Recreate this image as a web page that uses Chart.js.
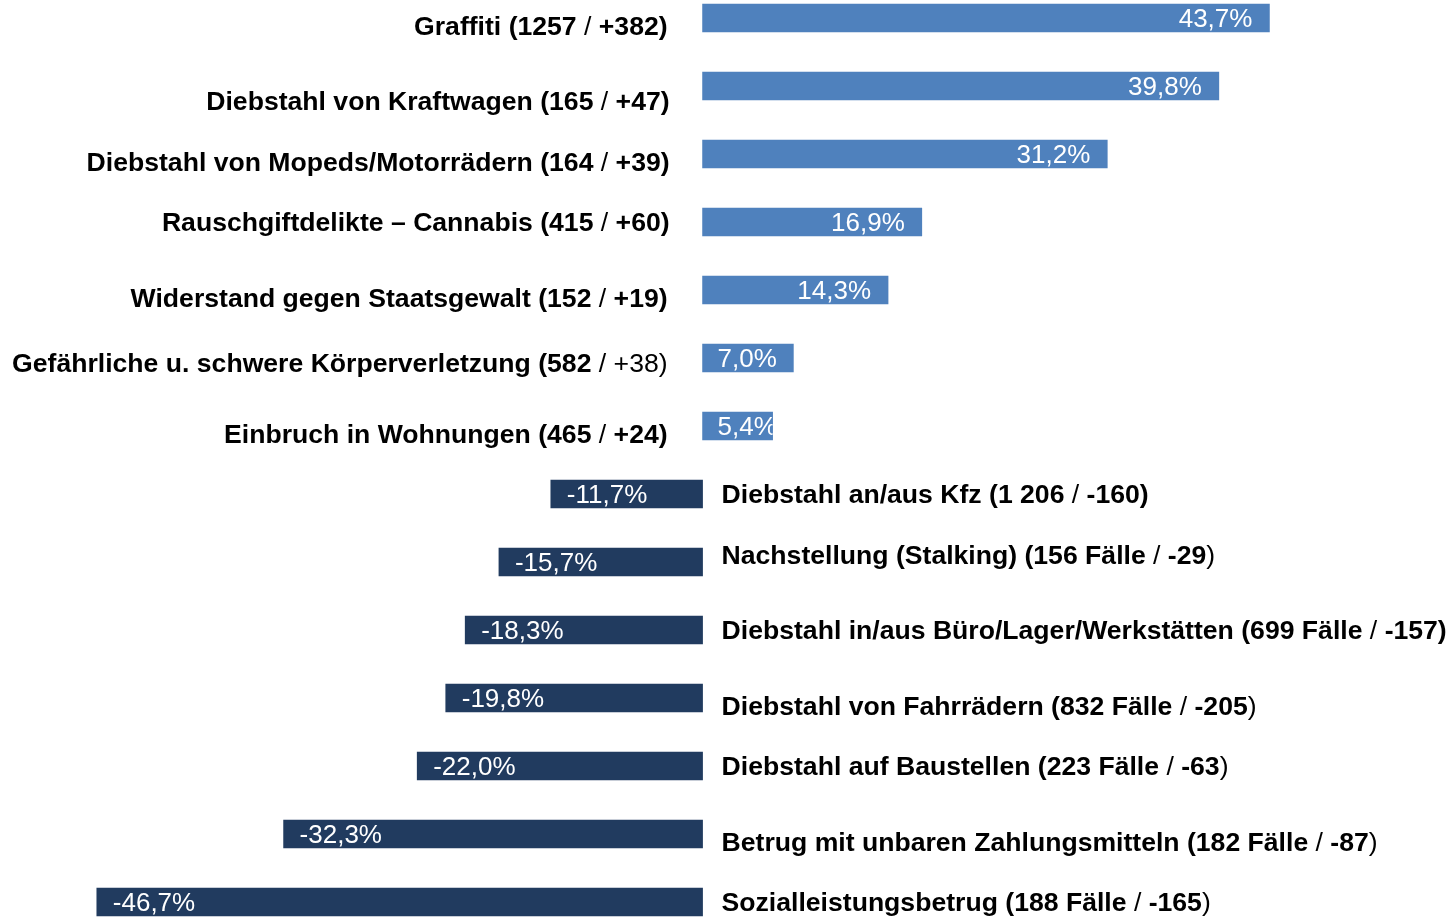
<!DOCTYPE html>
<html>
<head>
<meta charset="utf-8">
<script src="https://cdn.jsdelivr.net/npm/chart.js@4/dist/chart.umd.min.js"></script>
<style>
  html, body { margin: 0; padding: 0; background: #fff; }
  canvas { display: block; }
</style>
</head>
<body>
<canvas id="c" width="1450" height="918"></canvas>
<script>
// category labels, parts in {} are drawn in regular weight
var categories = [
  "Graffiti (1257 {/} +382)",
  "Diebstahl von Kraftwagen (165 {/} +47)",
  "Diebstahl von Mopeds/Motorrädern (164 {/} +39)",
  "Rauschgiftdelikte – Cannabis (415 {/} +60)",
  "Widerstand gegen Staatsgewalt (152 {/} +19)",
  "Gefährliche u. schwere Körperverletzung (582 {/ +38)}",
  "Einbruch in Wohnungen (465 {/} +24)",
  "Diebstahl an/aus Kfz (1 206 {/} -160)",
  "Nachstellung (Stalking) (156 Fälle {/} -29{)}",
  "Diebstahl in/aus Büro/Lager/Werkstätten (699 Fälle {/} -157)",
  "Diebstahl von Fahrrädern (832 Fälle {/} -205{)}",
  "Diebstahl auf Baustellen (223 Fälle {/} -63{)}",
  "Betrug mit unbaren Zahlungsmitteln (182 Fälle {/} -87{)}",
  "Sozialleistungsbetrug (188 Fälle {/} -165{)}"
];
var changes = [43.7, 39.8, 31.2, 16.9, 14.3, 7.0, 5.4, -11.7, -15.7, -18.3, -19.8, -22.0, -32.3, -46.7];
// small vertical nudges of the category text against its bar
var labelShift = [10, 17, 10, 2, 10, 7, 10, 2, -5, 2, 10, 2, 10, 2];
var labelGapRight = [35, 33, 33, 33, 35, 35, 35];

var posColor = '#4f81bd';
var negColor = '#213b5f';
var font = '"Liberation Sans", Arial, Helvetica, sans-serif';
var size = '26.6px ';

function parts(s) {
  var out = [], re = /\{([^}]*)\}/g, last = 0, m;
  while ((m = re.exec(s)) !== null) {
    if (m.index > last) out.push({t: s.slice(last, m.index), b: true});
    out.push({t: m[1], b: false});
    last = re.lastIndex;
  }
  if (last < s.length) out.push({t: s.slice(last), b: true});
  return out;
}

function drawMixed(ctx, s, x, y, align) {
  var p = parts(s);
  var total = 0;
  p.forEach(function (q) {
    ctx.font = (q.b ? 'bold ' : '') + size + font;
    q.w = ctx.measureText(q.t).width;
    total += q.w;
  });
  var cx = align === 'right' ? x - total : x;
  ctx.textAlign = 'left';
  p.forEach(function (q) {
    ctx.font = (q.b ? 'bold ' : '') + size + font;
    ctx.fillText(q.t, cx, y);
    cx += q.w;
  });
}

var labelPlugin = {
  id: 'barLabels',
  afterDatasetsDraw: function (chart) {
    var ctx = chart.ctx;
    var meta = chart.getDatasetMeta(0);
    var zero = chart.scales.x.getPixelForValue(0);
    ctx.save();
    ctx.textBaseline = 'middle';
    meta.data.forEach(function (bar, i) {
      var v = changes[i];
      var txt = v.toFixed(1).replace('.', ',') + '%';
      // value inside bar
      ctx.fillStyle = '#ffffff';
      ctx.font = '26px ' + font;
      var w = ctx.measureText(txt).width;
      if (v >= 0) {
        var right = Math.max(bar.x - 17, zero + 15 + w);
        ctx.save();
        ctx.beginPath();
        ctx.rect(zero, bar.y - 20, bar.x - zero, 40);
        ctx.clip();
        ctx.textAlign = 'right';
        ctx.fillText(txt, right, bar.y + 2);
        ctx.restore();
      } else {
        ctx.textAlign = 'left';
        ctx.fillText(txt, bar.x + 16, bar.y + 2);
      }
      // category text
      ctx.fillStyle = '#000000';
      if (v >= 0) {
        drawMixed(ctx, categories[i], zero - labelGapRight[i], bar.y + labelShift[i], 'right');
      } else {
        drawMixed(ctx, categories[i], zero + 19, bar.y + labelShift[i], 'left');
      }
    });
    ctx.restore();
  }
};

new Chart(document.getElementById('c'), {
  type: 'bar',
  data: {
    labels: categories,
    datasets: [{
      data: changes,
      backgroundColor: changes.map(function (v) { return v >= 0 ? posColor : negColor; }),
      borderWidth: 0,
      barThickness: 28,
      clip: false
    }]
  },
  options: {
    indexAxis: 'y',
    responsive: false,
    animation: false,
    layout: { padding: { left: 54, right: 34, top: 18, bottom: 16 } },
    plugins: { legend: { display: false }, tooltip: { enabled: false } },
    scales: {
      x: { min: -50, max: 55, display: false },
      y: { display: false, offset: false }
    }
  },
  plugins: [labelPlugin]
});
</script>
</body>
</html>
